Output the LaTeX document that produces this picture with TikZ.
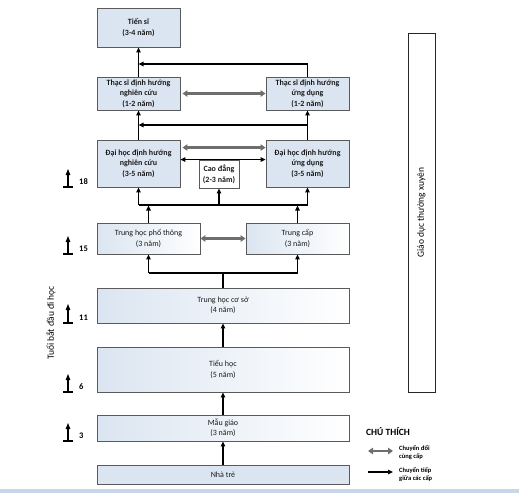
\documentclass[tikz,border=0pt]{standalone}
\usepackage{fontspec}
\setmainfont{Carlito}
\usetikzlibrary{arrows.meta,calc}
\definecolor{boxfill}{RGB}{219,229,241}
\definecolor{boxline}{RGB}{90,90,90}
\definecolor{greyarr}{RGB}{110,110,110}
\definecolor{band}{RGB}{200,214,234}
\tikzset{
  upbox/.style={draw=boxline, line width=0.9pt, fill=boxfill, inner sep=0pt, align=center,
     font=\fontsize{8}{10.5}\selectfont\bfseries, text=black!90},
  lowbox/.style={draw=boxline, line width=0.9pt, left color=boxfill, right color=white, inner sep=0pt, align=center,
     font=\fontsize{8}{10.5}\selectfont, text=black!90},
  arr/.style={line width=1.3pt, -{Triangle[length=5pt,width=4.5pt]}},
  plain/.style={line width=1.3pt},
  swap/.style={line width=2.6pt, color=greyarr, {Triangle[length=5pt,width=6.5pt]}-{Triangle[length=5pt,width=6.5pt]}},
  agearr/.style={line width=1.1pt, -{Triangle[length=6pt,width=4.5pt]}},
  agelab/.style={font=\fontsize{8.5}{9}\selectfont\bfseries, anchor=west, inner sep=0pt},
  legtxt/.style={font=\fontsize{6.5}{8}\selectfont\bfseries, anchor=west, align=left, inner sep=0pt},
}
\begin{document}
\begin{tikzpicture}[x=1pt,y=-1pt]
\useasboundingbox (0,0) rectangle (519,493);
\fill[band] (0,489) rectangle (519,493);
% boxes
\node[upbox, minimum width=83pt, minimum height=39pt] (ts) at (138.5,27.5) {Tiến sĩ\\(3-4 năm)};
\node[upbox, minimum width=83pt, minimum height=33pt] (tsnc) at (138.5,93.5) {Thạc sĩ định hướng\\nghiên cứu\\(1-2 năm)};
\node[upbox, minimum width=83pt, minimum height=33pt] (tsud) at (307.5,93.5) {Thạc sĩ định hướng\\ứng dụng\\(1-2 năm)};
\node[upbox, minimum width=83pt, minimum height=47pt] (dhnc) at (138.5,163.5) {Đại học định hướng\\nghiên cứu\\(3-5 năm)};
\node[upbox, minimum width=83pt, minimum height=47pt] (dhud) at (307.5,163.5) {Đại học định hướng\\ứng dụng\\(3-5 năm)};
\node[upbox, fill=white, minimum width=40pt, minimum height=28pt] (cd) at (219,174) {Cao đẳng\\(2-3 năm)};
\node[lowbox, minimum width=103pt, minimum height=31pt] (thpt) at (148.5,238.5) {Trung học phổ thông\\(3 năm)};
\node[lowbox, minimum width=103pt, minimum height=31pt] (tc) at (297.5,238.5) {Trung cấp\\(3 năm)};
\node[lowbox, minimum width=252pt, minimum height=35pt] (thcs) at (223,305.5) {Trung học cơ sở\\(4 năm)};
\node[lowbox, minimum width=252pt, minimum height=45pt] (th) at (223,369.5) {Tiểu học\\(5 năm)};
\node[lowbox, minimum width=252pt, minimum height=26pt] (mg) at (223,428) {Mẫu giáo\\(3 năm)};
\node[upbox, font=\fontsize{8}{10.5}\selectfont, minimum width=252pt, minimum height=19pt] (nt) at (223,474.5) {Nhà trẻ};
\node[draw=black!85, line width=0.9pt, fill=white, minimum width=27pt, minimum height=359pt, inner sep=0pt] (gdtx) at (421.5,212.5) {};
\node[rotate=90, font=\fontsize{9.5}{10}\selectfont] (gdtxl) at (gdtx.center) {Giáo dục thường xuyên};
% connectors upper
\draw[arr] (tsnc.north) -- (ts.south);
\coordinate (j1) at (138.5,64);
\draw[arr] (tsud.north) |- (j1);
\draw[arr] (dhnc.north) -- (tsnc.south);
\draw[arr] (dhud.north) -- (tsud.south);
\coordinate (j2) at (138.5,125);
\draw[arr] (dhud.north |- j2) -- (j2);
\draw[swap] ($(tsnc.east)+(2,0)$) -- (tsud.west);
\draw[swap] ($(dhnc.north east)+(2,8)$) -- ($(dhud.north west)+(0,8)$);
\draw[arr] (cd.north) -- (cd.north -| dhnc.east);
\draw[arr] (cd.north) -- (cd.north -| dhud.west);
% junction above THPT/TC
\coordinate (j3) at (223,205);
\draw[plain] (dhnc.south |- j3) -- (dhud.south |- j3);
\draw[arr] (dhnc.south |- j3) -- (dhnc.south);
\draw[arr] (cd.south |- j3) -- (cd.south);
\draw[arr] (dhud.south |- j3) -- (dhud.south);
\draw[arr] (thpt.north) -- ($(thpt.north |- j3)+(0,0.6)$);
\draw[arr] (tc.north) -- ($(tc.north |- j3)+(0,0.6)$);
\draw[swap] (thpt.east) -- (tc.west);
% junction above THCS
\coordinate (j4) at (223,273);
\draw[plain] (thcs.north) -- (j4);
\draw[plain] (thpt.south |- j4) -- (tc.south |- j4);
\draw[arr] (thpt.south |- j4) -- (thpt.south);
\draw[arr] (tc.south |- j4) -- (tc.south);
\draw[arr] (th.north) -- (thcs.south);
\draw[arr] (mg.north) -- (th.south);
\draw[arr] (nt.north) -- (mg.south);
% age markers
\foreach \t/\b/\lab in {169/187/18, 236/254/15, 304/323/11, 374/392/6, 423/441/3}{
  \draw[line width=1.1pt] (63,\b) -- (73,\b);
  \draw[agearr] (68,\b) -- (68,\t);
  \node[agelab] at (79,\b-5) {\lab};
}
\node[rotate=90, font=\fontsize{9.5}{10}\selectfont] (age) at (51,323) {Tuổi bắt đầu đi học};
% legend
\node[font=\fontsize{9.5}{10}\selectfont\bfseries, anchor=west, inner sep=0pt] (legt) at (366,432) {CHÚ THÍCH};
\coordinate (l1a) at (368,451); \coordinate (l1b) at (393,451);
\coordinate (l2a) at (368,472); \coordinate (l2b) at (393,472);
\draw[swap] (l1a) -- (l1b);
\draw[arr] (l2a) -- (l2b);
\node[legtxt] (leg1) at (399,452) {Chuyển đổi\\cùng cấp};
\node[legtxt] (leg2) at (399,474) {Chuyển tiếp\\giữa các cấp};
\end{tikzpicture}
\end{document}
